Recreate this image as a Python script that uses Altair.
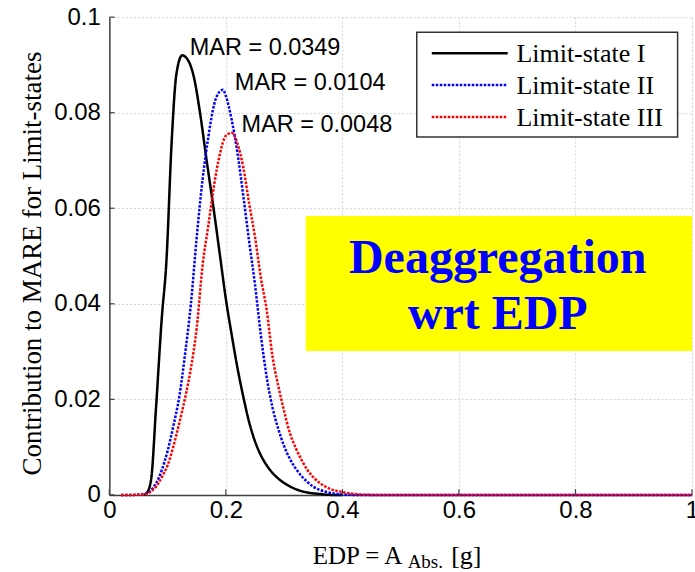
import altair as alt
import pandas as pd

# Contribution curves per limit state (EDP in g)
edp_ls1 = [0.06, 0.065, 0.072, 0.08, 0.09, 0.098, 0.107, 0.115, 0.125, 0.135, 0.145,
           0.155, 0.167, 0.18, 0.19, 0.20, 0.21, 0.22, 0.23, 0.24, 0.25, 0.26, 0.27,
           0.28, 0.29, 0.30, 0.32, 0.34, 0.36, 0.38, 0.40]
ctr_ls1 = [0.0, 0.0005, 0.0035, 0.018, 0.037, 0.049, 0.074, 0.088, 0.092, 0.091, 0.0875,
           0.0805, 0.070, 0.059, 0.050, 0.041, 0.0335, 0.0265, 0.0205, 0.0152, 0.0112, 0.0083,
           0.0062, 0.0046, 0.0034, 0.0025, 0.0012, 0.0005, 0.0002, 0.0, 0.0]

edp_ls2 = [0.02, 0.04, 0.06, 0.07, 0.08, 0.09, 0.10, 0.11, 0.12, 0.13, 0.14, 0.15, 0.16,
           0.17, 0.18, 0.19, 0.195, 0.20, 0.21, 0.22, 0.23, 0.24, 0.25, 0.26, 0.27, 0.28,
           0.29, 0.30, 0.31, 0.32, 0.33, 0.34, 0.35, 0.36, 0.37, 0.38, 0.40, 0.42, 0.45,
           0.5, 0.6, 0.7, 0.8, 0.9, 1.0]
ctr_ls2 = [0.0, 0.0, 0.0002, 0.0008, 0.0024, 0.0052, 0.0092, 0.0145, 0.0205, 0.0295, 0.040,
           0.054, 0.066, 0.075, 0.0818, 0.0845, 0.0848, 0.0835, 0.0785, 0.0715, 0.0625,
           0.053, 0.044, 0.0335, 0.0247, 0.0183, 0.0138, 0.0102, 0.0075, 0.0055, 0.0039,
           0.0027, 0.0017, 0.0011, 0.0007, 0.0004, 0.0001, 0.0, 0.0, 0.0, 0.0, 0.0, 0.0,
           0.0, 0.0]

edp_ls3 = [0.02, 0.04, 0.06, 0.07, 0.08, 0.09, 0.10, 0.11, 0.12, 0.13, 0.14, 0.15, 0.16,
           0.17, 0.18, 0.19, 0.20, 0.21, 0.22, 0.23, 0.24, 0.25, 0.26, 0.27, 0.28, 0.29,
           0.30, 0.31, 0.32, 0.33, 0.34, 0.35, 0.36, 0.37, 0.38, 0.40, 0.42, 0.45, 0.5,
           0.6, 0.7, 0.8, 0.9, 1.0]
ctr_ls3 = [0.0, 0.0, 0.0001, 0.0006, 0.0017, 0.0037, 0.0062, 0.0102, 0.015, 0.0203, 0.0265,
           0.035, 0.048, 0.0565, 0.065, 0.0715, 0.0752, 0.0758, 0.0735, 0.0685, 0.061,
           0.054, 0.0455, 0.0387, 0.029, 0.0228, 0.0175, 0.0129, 0.0098, 0.0073, 0.0052,
           0.0037, 0.0026, 0.0018, 0.0012, 0.0006, 0.0002, 0.0, 0.0, 0.0, 0.0, 0.0, 0.0,
           0.0]

state_names = ["Limit-state I", "Limit-state II", "Limit-state III"]
state_colors = ["#000000", "#0000ff", "#ff0000"]
state_dashes = [[1, 0], [2.5, 1.5], [2.5, 1.5]]

x_ticks = [0, 0.2, 0.4, 0.6, 0.8, 1.0]
y_ticks = [0, 0.02, 0.04, 0.06, 0.08, 0.1]

mar_text = ["MAR = 0.0349", "MAR = 0.0104", "MAR = 0.0048"]
mar_x = [0.138, 0.2154, 0.227]
mar_y = [0.0921, 0.0847, 0.0760]

box_x = [0.337]
box_x2 = [1.0]
box_y = [0.0301]
box_y2 = [0.0584]
box_lines = ["Deaggregation", "wrt EDP"]
box_line_x = [0.6666, 0.6666]
box_line_y = [0.0465, 0.0347]

curves = pd.concat([
    pd.DataFrame({"edp": edp_ls1, "contribution": ctr_ls1, "state": state_names[0]}),
    pd.DataFrame({"edp": edp_ls2, "contribution": ctr_ls2, "state": state_names[1]}),
    pd.DataFrame({"edp": edp_ls3, "contribution": ctr_ls3, "state": state_names[2]}),
], ignore_index=True)

xs = alt.Scale(domain=[0, 1], nice=False)
ys = alt.Scale(domain=[0, 0.1], nice=False)

x_axis = alt.Axis(values=x_ticks, format="~g", title=None, labelPadding=4)
y_axis = alt.Axis(
    values=y_ticks, format="~g", labelPadding=9,
    title="Contribution to MARE for Limit-states",
    titleFont="Liberation Serif", titleFontSize=27, titleFontWeight="normal",
    titleColor="black", titleX=-69, titleY=246, titleAngle=270,
    titleAlign="center", titleBaseline="alphabetic",
)

lines = alt.Chart(curves).mark_line(strokeWidth=2.5, interpolate="monotone").encode(
    x=alt.X("edp:Q", scale=xs, axis=x_axis),
    y=alt.Y("contribution:Q", scale=ys, axis=y_axis),
    color=alt.Color("state:N", scale=alt.Scale(domain=state_names, range=state_colors), legend=None),
    strokeDash=alt.StrokeDash("state:N", scale=alt.Scale(domain=state_names, range=state_dashes), legend=None),
)

# inward tick marks
xtick_df = pd.DataFrame({"v": x_ticks, "lo": 0.0, "hi": 0.0012})
ytick_df = pd.DataFrame({"v": y_ticks, "lo": 0.0, "hi": 0.009})
xticks = alt.Chart(xtick_df).mark_rule(color="#404040", strokeWidth=1.2).encode(
    x="v:Q", y="lo:Q", y2="hi:Q")
yticks = alt.Chart(ytick_df).mark_rule(color="#404040", strokeWidth=1.2).encode(
    y="v:Q", x="lo:Q", x2="hi:Q")

mar_df = pd.DataFrame({"x": mar_x, "y": mar_y, "label": mar_text})
mar_labels = alt.Chart(mar_df).mark_text(
    align="left", baseline="alphabetic", font="Liberation Sans", fontSize=23.5, color="black"
).encode(x="x:Q", y="y:Q", text="label:N")

box_df = pd.DataFrame({"x": box_x, "x2": box_x2, "y": box_y, "y2": box_y2})
box = alt.Chart(box_df).mark_rect(color="#ffff00").encode(x="x:Q", x2="x2:Q", y="y:Q", y2="y2:Q")

box_text_df = pd.DataFrame({"x": box_line_x, "y": box_line_y, "label": box_lines})
box_text = alt.Chart(box_text_df).mark_text(
    align="center", baseline="alphabetic", font="Liberation Serif", fontSize=48,
    fontWeight="bold", color="#0000ff"
).encode(x="x:Q", y="y:Q", text="label:N")

# x-axis title with subscript
title_main = alt.Chart().mark_text(
    align="left", baseline="alphabetic", font="Liberation Serif", fontSize=25, color="black"
).encode(x=alt.value(203.6), y=alt.value(547), text=alt.value("EDP = A"))
title_sub = alt.Chart().mark_text(
    align="left", baseline="alphabetic", font="Liberation Serif", fontSize=19, color="black"
).encode(x=alt.value(298.5), y=alt.value(551), text=alt.value("Abs."))
title_unit = alt.Chart().mark_text(
    align="left", baseline="alphabetic", font="Liberation Serif", fontSize=26, color="black"
).encode(x=alt.value(342), y=alt.value(547), text=alt.value("[g]"))

# legend box in the upper right of the axes
leg_left, leg_right, leg_top, leg_bottom = 307.6, 568.6, 15, 120
leg_row0, leg_row_step = 36, 32
leg_line_x, leg_line_x2, leg_text_x = 322.6, 398.6, 407.3

legend_layers = [
    alt.Chart().mark_rect(fill="white", stroke="#333333", strokeWidth=1.5).encode(
        x=alt.value(leg_left), x2=alt.value(leg_right),
        y=alt.value(leg_top), y2=alt.value(leg_bottom))
]
for i, (name, col, dash) in enumerate(zip(state_names, state_colors, state_dashes)):
    row_y = leg_row0 + i * leg_row_step
    legend_layers.append(
        alt.Chart().mark_rule(color=col, strokeWidth=2.5, strokeDash=dash).encode(
            x=alt.value(leg_line_x), x2=alt.value(leg_line_x2), y=alt.value(row_y))
    )
    legend_layers.append(
        alt.Chart().mark_text(
            align="left", baseline="middle", font="Liberation Serif", fontSize=26, color="black"
        ).encode(x=alt.value(leg_text_x), y=alt.value(row_y + 1), text=alt.value(name))
    )

chart = alt.layer(
    lines, xticks, yticks, mar_labels, box, box_text, title_main, title_sub, title_unit,
    *legend_layers
).properties(
    width=583, height=478,
    autosize=alt.AutoSizeParams(type="none"),
    padding={"left": 109.4, "top": 17, "right": 3, "bottom": 77},
    background="white",
).configure_view(stroke=None).configure_axis(
    grid=True, gridColor="#d4d4d4", gridDash=[2, 2], gridWidth=1,
    domainColor="#404040", domainWidth=1.5, ticks=False,
    labelFont="Liberation Sans", labelFontSize=24, labelColor="black",
    labelFlush=False, labelOverlap=False,
)

chart.save("out.html", embed_options={"renderer": "svg", "actions": False})
